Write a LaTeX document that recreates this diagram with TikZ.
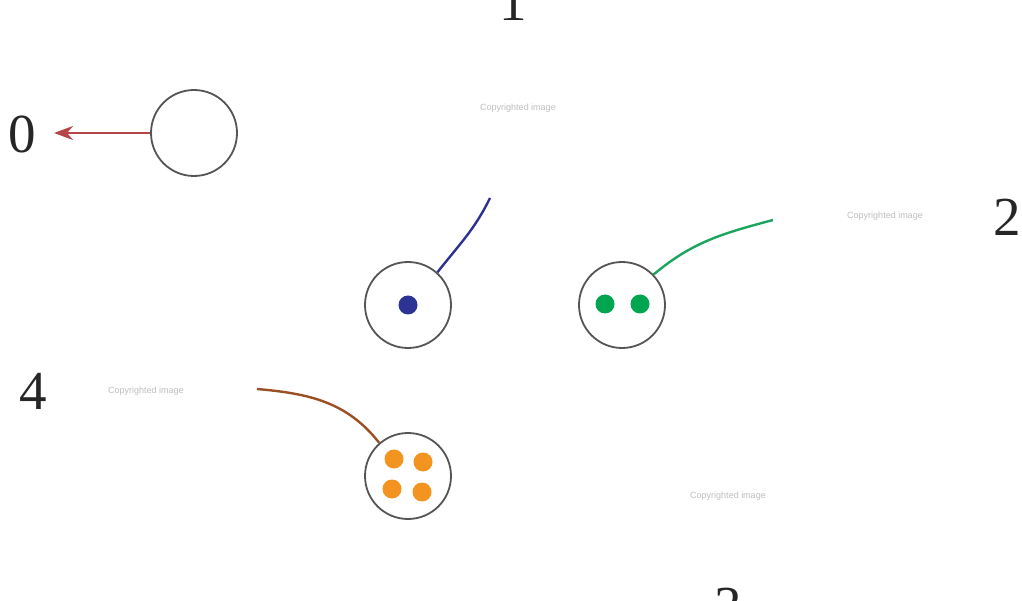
\documentclass[tikz,border=0pt]{standalone}
\usepackage{fontspec}
\setmainfont{Liberation Serif}
\newfontfamily\markfont{Liberation Sans}
\usepackage{xcolor}
\usetikzlibrary{arrows.meta}
\definecolor{ringgray}{HTML}{555555}
\definecolor{arrowred}{HTML}{B5474B}
\definecolor{wireblue}{HTML}{2E3192}
\definecolor{wiregreen}{HTML}{1BA55E}
\definecolor{wirebrown}{HTML}{9B4F22}
\definecolor{dotblue}{HTML}{2B3494}
\definecolor{dotgreen}{HTML}{00A54F}
\definecolor{dotorange}{HTML}{F39320}
\definecolor{marktext}{HTML}{BDBDBD}
\tikzset{
  ring/.style={
    draw=ringgray,
    fill=white,
    circle,
    line width=1.8pt,
    minimum size=86pt,
    inner sep=0pt
  },
  numlabel/.style={
    font=\fontsize{55}{55}\selectfont,
    text=black!85,
    inner sep=0pt
  },
  watermark/.style={font=\markfont\fontsize{9}{9}\selectfont, text=marktext},
  pullarrow/.style={-{Stealth[length=19pt, width=14pt, inset=6pt]}, line width=2pt, draw=arrowred},
  wire/.style={line width=2.4pt}
}

\begin{document}
\begin{tikzpicture}[x=1pt, y=1pt]
\useasboundingbox (0,0) rectangle (1022,600);

\node[ring] (empty) at (194,467) {};
\node[ring] (one) at (408,295) {};
\node[ring] (two) at (622,295) {};
\node[ring] (four) at (408,124) {};

\node[numlabel] (lab0) at (22,466) {0};
\node[numlabel, anchor=base] (lab1) at (513,579) {1};
\node[numlabel] (lab2) at (1007,383) {2};
\node[numlabel, anchor=base] (lab3) at (728,-24) {3};
\node[numlabel] (lab4) at (33,209) {4};

\node[watermark] (wm1) at (518,492) {Copyrighted image};
\node[watermark] (wm2) at (885,384) {Copyrighted image};
\node[watermark] (wm3) at (146,209) {Copyrighted image};
\node[watermark] (wm4) at (728,104) {Copyrighted image};

\coordinate (pulltip) at (54,467);
\coordinate (bluetip) at (490,402);
\coordinate (greentip) at (773,380);
\coordinate (browntip) at (257,211);

\draw[pullarrow] (empty.west) -- (pulltip);
\draw[wire, draw=wireblue] (one.48) to[out=52, in=244] (bluetip);
\draw[wire, draw=wiregreen] (two.44) to[out=40, in=195] (greentip);
\draw[wire, draw=wirebrown] (four.131) to[out=128, in=-5] (browntip);

\fill[dotblue] (one.center) circle (9.5pt);
\fill[dotgreen] (605,296) circle (9.5pt);
\fill[dotgreen] (640,296) circle (9.5pt);
\fill[dotorange] (394,141) circle (9.5pt);
\fill[dotorange] (423,138) circle (9.5pt);
\fill[dotorange] (392,111) circle (9.5pt);
\fill[dotorange] (422,108) circle (9.5pt);
\end{tikzpicture}
\end{document}
